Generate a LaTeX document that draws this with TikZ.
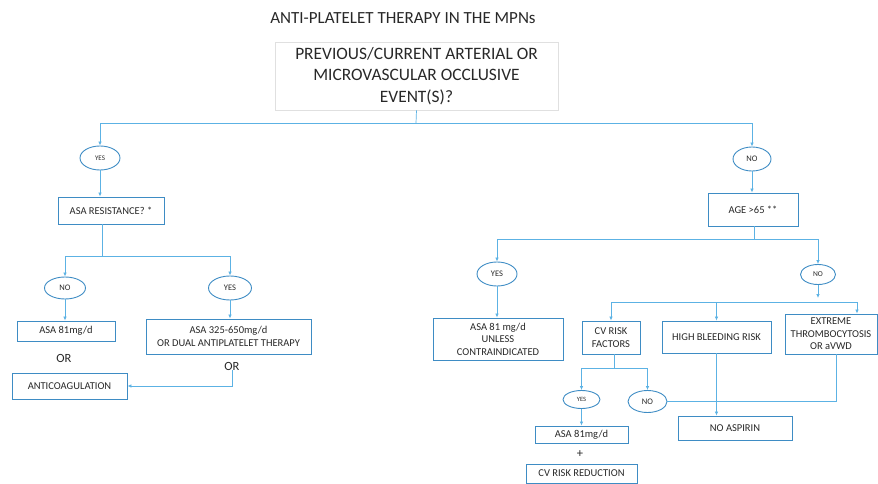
\documentclass[tikz,border=0pt]{standalone}
\usepackage{fontspec}
\setmainfont{Carlito}
\usetikzlibrary{arrows.meta, positioning, calc, shapes.geometric}

\definecolor{boxblue}{RGB}{62,140,196}
\definecolor{lineblue}{RGB}{92,178,228}
\definecolor{txtgray}{RGB}{40,40,40}

\begin{document}
\begin{tikzpicture}[
    x=1pt, y=-1pt, % 像素坐标
    every node/.style={text=txtgray, inner sep=0pt},
    box/.style={draw=boxblue, line width=0.9pt, rectangle, align=center, font=\fontsize{10.5}{12.5}\selectfont}, % 方框
    qbox/.style={draw=black!12, line width=0.6pt, rectangle, align=center, font=\fontsize{17.4}{21.5}\selectfont}, % 顶部问题框
    oval/.style={draw=boxblue, line width=0.9pt, ellipse, font=\fontsize{8.5}{9}\selectfont}, % YES/NO 椭圆
    link/.style={lineblue, line width=0.7pt}, % 连线
    arr/.style={link, -{Latex[length=4pt, width=3.5pt]}}, % 带箭头连线
    ortxt/.style={font=\fontsize{12.5}{13}\selectfont} % OR / +
]
    \useasboundingbox (0,0) rectangle (878,484);

    % 1. 标题与顶部问题
    \node[font=\fontsize{17}{18}\selectfont] (title) at (403,18) {ANTI-PLATELET THERAPY IN THE MPNs};
    \node[qbox, minimum width=283, minimum height=68] (event) at (416.5,76)
        {PREVIOUS/CURRENT ARTERIAL OR\\MICROVASCULAR OCCLUSIVE\\EVENT(S)?};

    \node[oval, minimum width=40, minimum height=24, font=\fontsize{7}{8}\selectfont] (yesA) at (100,158) {YES};
    \node[oval, minimum width=38, minimum height=24] (noA) at (752,159) {NO};

    \coordinate (splitA) at (416,123);
    \draw[link] (event.south) -- (splitA);
    \draw[arr] (splitA) -| (yesA.north);
    \draw[arr] (splitA) -| (noA.north);

    % 2. 左侧:ASA 抵抗
    \node[box, minimum width=106, minimum height=27] (resist) at (111,210.5) {ASA RESISTANCE? *};
    \draw[arr] (yesA.south) -- (yesA.south |- resist.north);

    \node[oval, minimum width=41, minimum height=22] (noB) at (65,288) {NO};
    \node[oval, minimum width=43, minimum height=24] (yesB) at (230,288) {YES};
    \coordinate (splitB) at (102,256);
    \draw[link] (splitB |- resist.south) -- (splitB);
    \draw[arr] (splitB) -| (noB.north);
    \draw[arr] (splitB) -| (yesB.north);

    \node[box, minimum width=98, minimum height=20] (asaLow) at (66,331) {ASA 81mg/d};
    \node[ortxt] (orA) at (64,358) {OR};
    \node[box, minimum width=115, minimum height=26] (anticoag) at (69.5,386) {ANTICOAGULATION};
    \draw[arr] (noB.south) -- (noB.south |- asaLow.north);

    \node[box, minimum width=165, minimum height=35] (asaHigh) at (228.5,336.5)
        {ASA 325-650mg/d\\OR DUAL ANTIPLATELET THERAPY};
    \node[ortxt] (orB) at (232,366) {OR};
    \draw[arr] (yesB.south) -- (yesB.south |- asaHigh.north);
    \draw[arr] (orB.south) |- (anticoag.east);

    % 3. 右侧:年龄
    \node[box, minimum width=90, minimum height=33] (age) at (753,209.5) {AGE >65 **};
    \draw[arr] (noA.south) -- (noA.south |- age.north);

    \node[oval, minimum width=40, minimum height=24] (yesC) at (497,274) {YES};
    \node[oval, minimum width=35, minimum height=20, font=\fontsize{7.5}{8}\selectfont] (noC) at (818,274.5) {NO};
    \coordinate (splitC) at (754,239);
    \draw[link] (splitC |- age.south) -- (splitC);
    \draw[arr] (splitC) -| (yesC.north);
    \draw[arr] (splitC) -| (noC.north);

    \node[box, minimum width=130, minimum height=42] (unless) at (498,339)
        {ASA 81 mg/d\\UNLESS\\CONTRAINDICATED};
    \draw[arr] (yesC.south) -- (yesC.south |- unless.north);

    % 4. 年龄 <65 的三种情况
    \node[box, minimum width=58, minimum height=33] (cvrisk) at (611,337.5) {CV RISK\\FACTORS};
    \node[box, minimum width=109, minimum height=32] (bleed) at (716.5,337) {HIGH BLEEDING RISK};
    \node[box, minimum width=92, minimum height=40] (extreme) at (831,334) {EXTREME\\THROMBOCYTOSIS\\OR aVWD};
    \coordinate (splitD) at (818,302);
    \draw[arr, shorten >=4pt] (noC.south) -- (splitD);
    \draw[arr] (splitD) -| (cvrisk.north);
    \draw[arr] (splitD) -| (bleed.north);
    \draw[arr] (splitD) -| ([xshift=26]extreme.north);

    \node[oval, minimum width=37, minimum height=18, font=\fontsize{6.5}{7}\selectfont] (yesD) at (581.5,399.5) {YES};
    \node[oval, minimum width=39, minimum height=22] (noD) at (647.5,401.5) {NO};
    \coordinate (splitE) at (614,368);
    \draw[link] (splitE |- cvrisk.south) -- (splitE);
    \draw[arr] (splitE) -| (yesD.north);
    \draw[arr] (splitE) -| (noD.north);

    \node[box, minimum width=93, minimum height=17] (asaCv) at (581.5,434.5) {ASA 81mg/d};
    \node[ortxt] (plus) at (580,454) {+};
    \node[box, minimum width=111, minimum height=19] (cvred) at (581.5,473.5) {CV RISK REDUCTION};
    \draw[arr] (yesD.south) -- (yesD.south |- asaCv.north);

    \node[box, minimum width=114, minimum height=24] (noasp) at (735,428) {NO ASPIRIN};
    \draw[arr] (bleed.south) -- (bleed.south |- noasp.north);
    \draw[link] ([xshift=5]extreme.south) |- (noD.east);

\end{tikzpicture}
\end{document}
